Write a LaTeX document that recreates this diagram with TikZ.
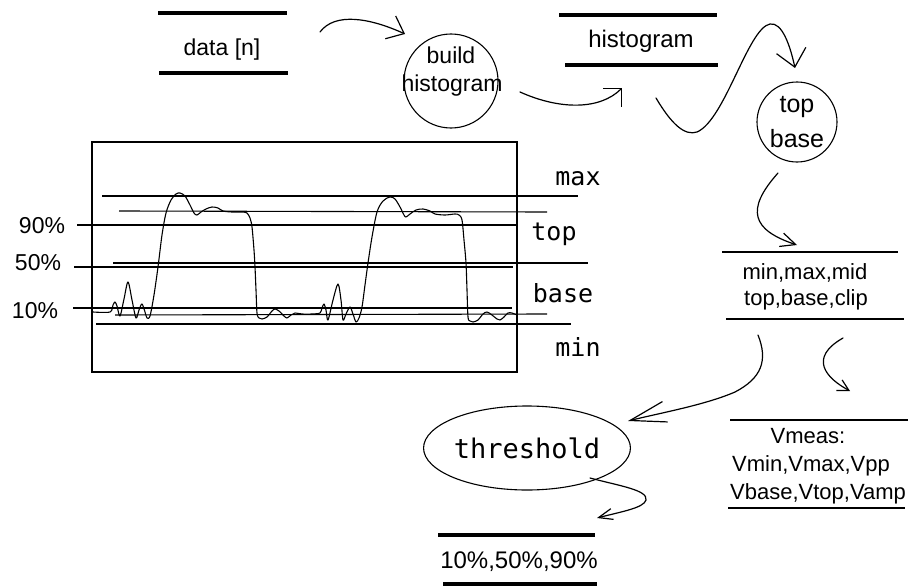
\documentclass[tikz,border=0pt]{standalone}
\usepackage{fontspec}
\setmainfont{Liberation Sans}
\newfontfamily\monof{DejaVu Sans Mono}
\usetikzlibrary{arrows.meta,shapes.geometric}
\begin{document}
\begin{tikzpicture}[x=1pt,y=-1pt,
  thinline/.style={line width=1.1pt},
  barline/.style={line width=3.8pt},
  lbl/.style={anchor=base, inner sep=0pt},
  sz/.style={font=\fontsize{#1}{#1}\selectfont},
  mono/.style={lbl, font=\monof\fontsize{25}{25}\selectfont},
  conn/.style={line width=1.2pt, line cap=round, line join=round},
  procc/.style={draw, circle, line width=1.1pt, inner sep=0pt},
]
\useasboundingbox (0,0) rectangle (916,586);

% ---------- data stores ----------
\node[lbl, sz=23] (datan) at (222,56) {data [n]};
\draw[barline] (158,13) -- (287,13);
\draw[barline] (159,73) -- (288,73);

\node[lbl, sz=24] (histo) at (641,48) {histogram};
\draw[barline] (559,15) -- (717,15);
\draw[barline] (565,65) -- (718,65);

\node[lbl, sz=22] (mmm1) at (805,279) {min,max,mid};
\node[lbl, sz=22] (mmm2) at (806,305) {top,base,clip};
\draw[thinline] (722,252) -- (898,252);
\draw[thinline] (726,319) -- (904,319);

\node[lbl, sz=22] (vm1) at (808,443) {Vmeas:};
\node[lbl, sz=22] (vm2) at (811,471) {Vmin,Vmax,Vpp};
\node[lbl, sz=22] (vm3) at (818,499) {Vbase,Vtop,Vamp};
\draw[thinline] (730,420) -- (908,420);
\draw[thinline] (728,508) -- (905,508);

\node[lbl, sz=24] (pct) at (519,568) {10\%,50\%,90\%};
\draw[barline] (438,535) -- (595,535);
\draw[barline] (443,584) -- (597,584);

% ---------- processes ----------
\node[procc, minimum size=94pt] (build) at (451,81) {};
\node[lbl, sz=23] (buildt1) at (451,64) {build};
\node[lbl, sz=23] (buildt2) at (452,92) {histogram};

\node[procc, minimum size=80pt, align=center, font=\fontsize{25}{35}\selectfont] (topbase) at (797,122) {top\\base};

\node[draw, ellipse, line width=1.1pt, minimum width=172pt, minimum height=84pt, inner sep=0pt,
      font=\monof\fontsize{27}{27}\selectfont] (thresh) at (527,448) {threshold};

% ---------- waveform panel ----------
\draw[thinline] (92,142) rectangle (517,372);
\draw[thinline] (102,196) -- (578,196);
\draw[thinline] (119,211) -- (547,212);
\draw[thinline] (77,225) -- (517,225);
\draw[thinline] (113,263) -- (588,263);
\draw[thinline] (74,267) -- (513,267);
\draw[thinline] (73,308) -- (512,308);
\draw[thinline] (115,315) -- (547,314);
\draw[thinline] (96,324) -- (571,324);

\draw[thinline, line join=round] plot[smooth, tension=0.5] coordinates {
 (93,312) (110,312) (113,305) (115,302) (117,306) (120,316) (124,299) (128,282)
 (132,300) (136,318) (139,310) (142,304) (145,312) (147,318) (150,316) (154,295)
 (158,267) (162,235) (166,213) (171,200) (176,194) (180,193) (185,196) (190,205)
 (194,213) (197,215) (201,212) (206,209) (212,207) (218,208) (223,211) (232,212)
 (242,212) (247,213) (250,218) (252,227) (254,250) (255,267) (256,290) (257,313)
 (259,318) (262,319) (267,317) (272,311) (275,309) (279,311) (284,316) (287,318)
 (291,315) (295,313) (302,314) (312,314) (320,313) (322,308) (324,304) (326,310)
 (328,320) (333,300) (338,284) (341,300) (343,320) (346,314) (350,307) (353,314)
 (356,322) (359,318) (362,307) (365,285) (368,263) (372,237) (377,212) (383,201)
 (390,197) (395,199) (400,207) (404,215) (406,217) (410,214) (416,210) (423,209)
 (430,211) (435,214) (445,215) (455,214) (459,215) (462,220) (464,240) (466,263)
 (467,290) (468,317) (470,321) (473,322) (478,320) (483,314) (487,312) (492,315)
 (497,319) (500,320) (504,317) (508,313) (512,313) (517,315)};

\node[mono] (lmax) at (578,185) {max};
\node[mono] (ltop) at (554,240) {top};
\node[mono] (lbase) at (563,302) {base};
\node[mono] (lmin) at (578,356) {min};
\node[lbl, sz=23] (l90) at (42,233) {90\%};
\node[lbl, sz=23] (l50) at (38,270) {50\%};
\node[lbl, sz=23] (l10) at (35,318) {10\%};

% ---------- connectors ----------
\coordinate (a1s) at (320,32);  \coordinate (a1e) at (405,34);
\coordinate (a2s) at (520,92);  \coordinate (a2e) at (622,88);
\coordinate (a3s) at (656,98);  \coordinate (a3e) at (795,68);
\coordinate (a4s) at (778,173); \coordinate (a4e) at (797,245);
\coordinate (a5s) at (758,335); \coordinate (a5e) at (628,421);
\coordinate (a6s) at (843,338); \coordinate (a6e) at (850,391);
\coordinate (a7s) at (590,478); \coordinate (a7e) at (597,518);

\draw[conn, -{Straight Barb[length=15pt,width=25pt]}]
  (a1s) .. controls (335,12) and (370,18) .. (a1e);
\draw[conn, -{Straight Barb[length=13pt,width=26pt]}]
  (a2s) .. controls (560,110) and (600,110) .. (a2e);
\draw[conn, -{Straight Barb[length=17pt,width=30pt]}]
  (a3s) .. controls (672,125) and (685,136) .. (697,132)
        .. controls (725,120) and (748,28) .. (770,24)
        .. controls (782,22) and (790,45) .. (a3e);
\draw[conn, -{Straight Barb[length=15pt,width=14pt]}]
  (a4s) .. controls (745,210) and (752,230) .. (a4e);
\draw[conn, -{Straight Barb[length=36pt,width=21pt]}]
  (a5s) .. controls (768,360) and (762,378) .. (735,392)
        .. controls (705,405) and (660,413) .. (a5e);
\draw[conn, -{Straight Barb[length=11pt,width=12pt]}]
  (a6s) .. controls (808,358) and (826,378) .. (a6e);
\draw[conn, -{Straight Barb[length=14pt,width=11pt]}]
  (a7s) .. controls (620,486) and (648,490) .. (646,500)
        .. controls (644,508) and (620,512) .. (a7e);
\end{tikzpicture}
\end{document}
